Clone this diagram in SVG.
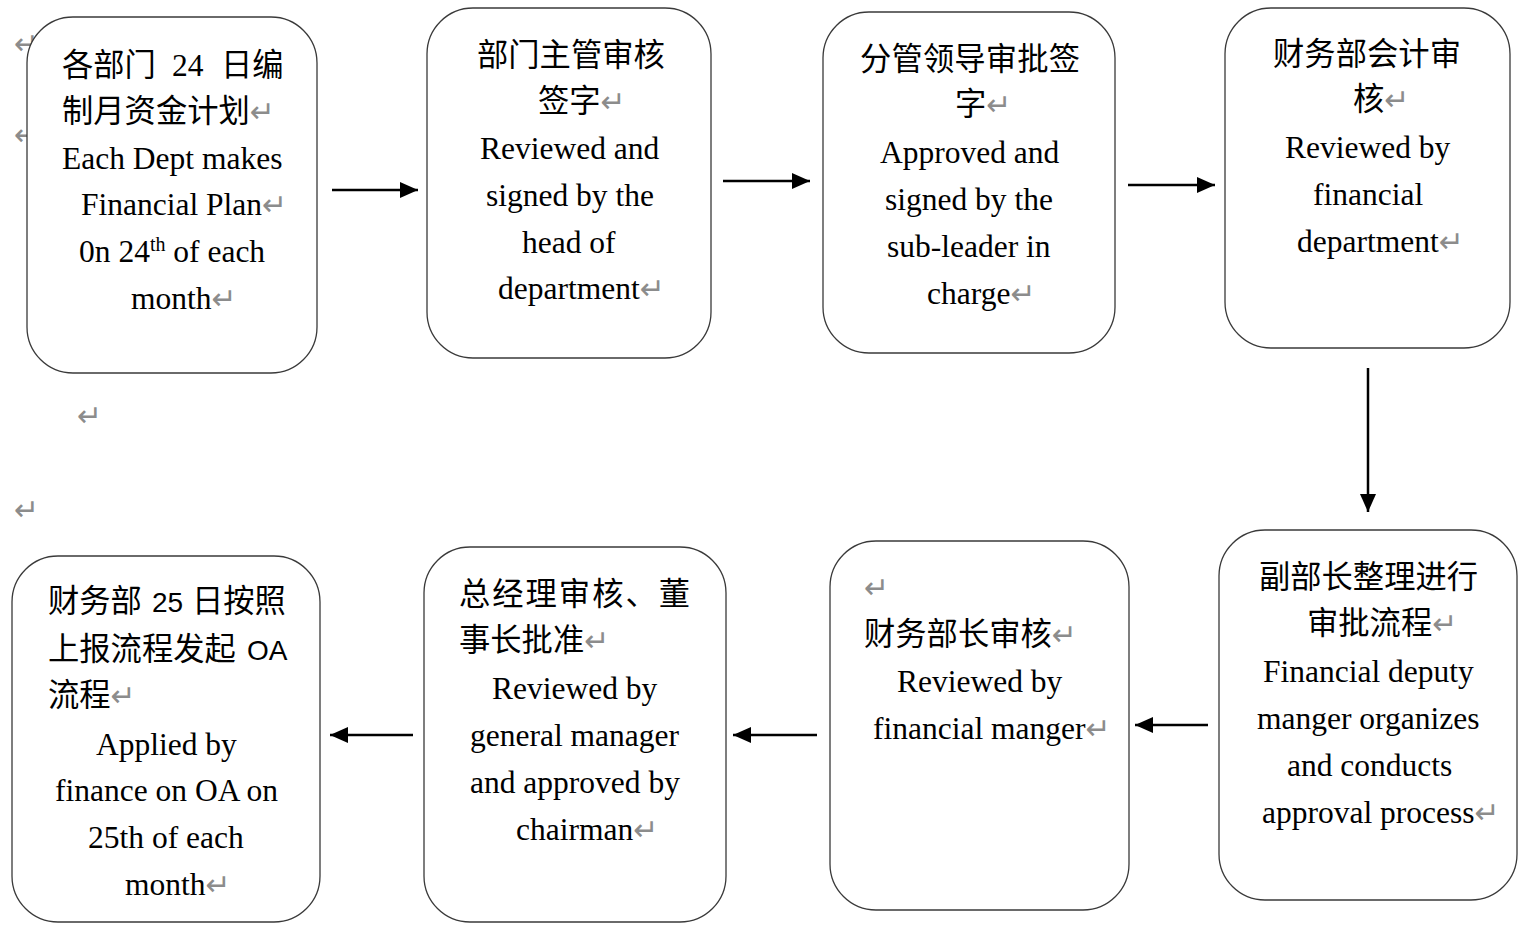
<svg xmlns="http://www.w3.org/2000/svg" width="1533" height="935" viewBox="0 0 1533 935">
<style>
.box{fill:#fff;stroke:#3a3a3a;stroke-width:1.3}
.t{font-family:"Liberation Serif","Noto Sans CJK SC",serif;font-size:31.5px;fill:#000}
.c{font-family:"Noto Sans CJK SC","Liberation Serif",sans-serif;font-size:31.3px;fill:#000}
.s{font-family:"Liberation Sans","Noto Sans CJK SC",sans-serif;font-size:28px;fill:#000}
.pm{font-family:"DejaVu Sans",sans-serif;font-size:30px;fill:#8c8c8c}
.ln{stroke:#000;stroke-width:2.5;fill:none}
</style>
<defs>
<marker id="ah" markerUnits="userSpaceOnUse" markerWidth="20" markerHeight="16" refX="18" refY="8" orient="auto">
<path d="M0,0 L18,8 L0,16 Z" fill="#000"/>
</marker>
</defs>
<g id="stray-marks">
<text class="pm" x="14" y="54">↵</text>
<text class="pm" x="14" y="145">↵</text>
<text class="pm" x="77" y="426">↵</text>
<text class="pm" x="14" y="520">↵</text>
</g>
<g id="n1">
<rect class="box" x="27" y="17" width="290" height="356" rx="46"/>
<text class="c" y="76"><tspan x="62">各部门</tspan><tspan class="t" x="172">24</tspan><tspan x="221">日编</tspan></text>
<text class="c" x="62" y="122">制月资金计划<tspan class="pm">↵</tspan></text>
<text class="t" x="62" y="169">Each Dept makes</text>
<text class="t" x="81" y="215">Financial Plan<tspan class="pm">↵</tspan></text>
<text class="t" x="79" y="262">0n 24<tspan font-size="20" dy="-11">th</tspan><tspan dy="11"> of each</tspan></text>
<text class="t" x="131" y="309">month<tspan class="pm">↵</tspan></text>
</g>
<g id="n2">
<rect class="box" x="427" y="8" width="284" height="350" rx="46"/>
<text class="c" x="477" y="66">部门主管审核</text>
<text class="c" x="538" y="112">签字<tspan class="pm">↵</tspan></text>
<text class="t" x="480" y="159">Reviewed and</text>
<text class="t" x="486" y="206">signed by the</text>
<text class="t" x="522" y="253">head of</text>
<text class="t" x="498" y="299">department<tspan class="pm">↵</tspan></text>
</g>
<g id="n3">
<rect class="box" x="823" y="12" width="292" height="341" rx="46"/>
<text class="c" x="860" y="70" textLength="220" lengthAdjust="spacing">分管领导审批签</text>
<text class="c" x="955" y="115">字<tspan class="pm">↵</tspan></text>
<text class="t" x="880" y="163">Approved and</text>
<text class="t" x="885" y="210">signed by the</text>
<text class="t" x="887" y="257">sub-leader in</text>
<text class="t" x="927" y="304">charge<tspan class="pm">↵</tspan></text>
</g>
<g id="n4">
<rect class="box" x="1225" y="8" width="285" height="340" rx="46"/>
<text class="c" x="1273" y="65" textLength="188" lengthAdjust="spacing">财务部会计审</text>
<text class="c" x="1353" y="110">核<tspan class="pm">↵</tspan></text>
<text class="t" x="1285" y="158">Reviewed by</text>
<text class="t" x="1313" y="205">financial</text>
<text class="t" x="1297" y="252">department<tspan class="pm">↵</tspan></text>
</g>
<g id="n5">
<rect class="box" x="1219" y="530" width="298" height="370" rx="46"/>
<text class="c" x="1259" y="588" textLength="219" lengthAdjust="spacing">副部长整理进行</text>
<text class="c" x="1307" y="634">审批流程<tspan class="pm">↵</tspan></text>
<text class="t" x="1263" y="682">Financial deputy</text>
<text class="t" x="1257" y="729">manger organizes</text>
<text class="t" x="1287" y="776">and conducts</text>
<text class="t" x="1262" y="823">approval process<tspan class="pm">↵</tspan></text>
</g>
<g id="n6">
<rect class="box" x="830" y="541" width="299" height="369" rx="46"/>
<text class="pm" x="864" y="598">↵</text>
<text class="c" x="864" y="645">财务部长审核<tspan class="pm">↵</tspan></text>
<text class="t" x="897" y="692">Reviewed by</text>
<text class="t" x="873" y="739">financial manger<tspan class="pm">↵</tspan></text>
</g>
<g id="n7">
<rect class="box" x="424" y="547" width="302" height="375" rx="46"/>
<text class="c" x="459" y="605" textLength="231" lengthAdjust="spacing">总经理审核、董</text>
<text class="c" x="459" y="651">事长批准<tspan class="pm">↵</tspan></text>
<text class="t" x="492" y="699">Reviewed by</text>
<text class="t" x="470" y="746">general manager</text>
<text class="t" x="470" y="793">and approved by</text>
<text class="t" x="516" y="840">chairman<tspan class="pm">↵</tspan></text>
</g>
<g id="n8">
<rect class="box" x="12" y="556" width="308" height="366" rx="46"/>
<text class="c" y="612"><tspan x="48">财务部</tspan><tspan class="s" x="152">25</tspan><tspan x="192">日按照</tspan></text>
<text class="c" y="660"><tspan x="48">上报流程发起</tspan><tspan class="s" x="247">OA</tspan></text>
<text class="c" x="48" y="706">流程<tspan class="pm">↵</tspan></text>
<text class="t" x="96" y="755">Applied by</text>
<text class="t" x="55" y="801">finance on OA on</text>
<text class="t" x="88" y="848">25th of each</text>
<text class="t" x="125" y="895">month<tspan class="pm">↵</tspan></text>
</g>
<g id="connectors">
<line class="ln" x1="332" y1="190" x2="418" y2="190" marker-end="url(#ah)"/>
<line class="ln" x1="723" y1="181" x2="810" y2="181" marker-end="url(#ah)"/>
<line class="ln" x1="1128" y1="185" x2="1215" y2="185" marker-end="url(#ah)"/>
<line class="ln" x1="1368" y1="368" x2="1368" y2="512" marker-end="url(#ah)"/>
<line class="ln" x1="1208" y1="725" x2="1135" y2="725" marker-end="url(#ah)"/>
<line class="ln" x1="817" y1="735" x2="733" y2="735" marker-end="url(#ah)"/>
<line class="ln" x1="413" y1="735" x2="330" y2="735" marker-end="url(#ah)"/>
</g>
</svg>
